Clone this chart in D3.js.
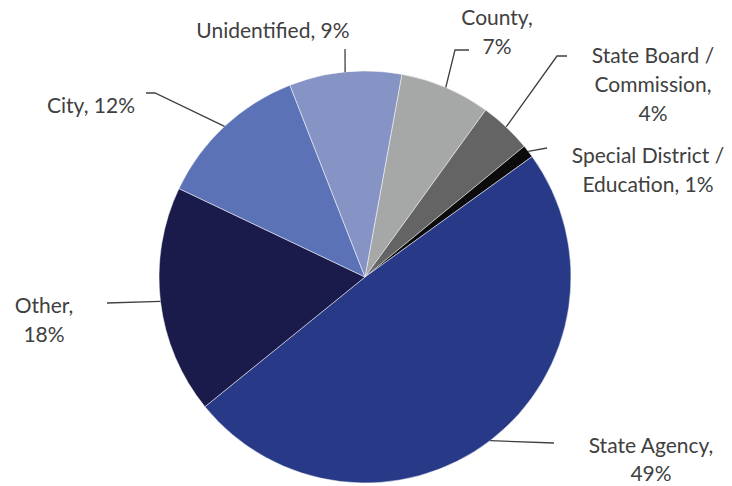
<!DOCTYPE html>
<html>
<head>
<meta charset="utf-8">
<script src="https://cdn.jsdelivr.net/npm/d3@7"></script>
<style>
  body { margin: 0; background: #fff; }
  svg { display: block; }
</style>
</head>
<body>
<div id="vis"></div>
<script>
// slice order, clockwise, starting just right of 12 o'clock
const categories = ["County", "State Board / Commission", "Special District / Education",
                    "State Agency", "Other", "City", "Unidentified"];
const shares = [7.1, 4.1, 1.0, 49.1, 17.9, 12.0, 8.8];
const labelLines = [
  ["County,", "7%"],
  ["State Board /", "Commission,", "4%"],
  ["Special District /", "Education, 1%"],
  ["State Agency,", "49%"],
  ["Other,", "18%"],
  ["City, 12%"],
  ["Unidentified, 9%"]
];
const colors = ["#a6a8a8", "#646464", "#0b0b0b", "#283a87", "#1a1b4b", "#5b72b7", "#8593c5"];

// label layout: text anchor (center x, first baseline y) and leader-line bends
const labelLayout = [
  {x: 497, y: 25, bends: [[455, 50], [469, 50]]},
  {x: 653, y: 63, bends: [[557, 56], [567, 56]]},
  {x: 648, y: 163, bends: [[547, 148]]},
  {x: 651, y: 453, bends: [[554, 443]]},
  {x: 44, y: 313, bends: [[107, 303]]},
  {x: 91, y: 113, bends: [[155, 93], [146, 93]]},
  {x: 273, y: 38, bends: [[345, 49]]}
];

const width = 732, height = 486;
const cx = 365, cy = 277, radius = 206;
const startDeg = 10.3;
const lineStep = 29;

const svg = d3.select("#vis").append("svg")
  .attr("width", width)
  .attr("height", height);

const data = categories.map((c, i) => ({name: c, value: shares[i], i: i}));

const pie = d3.pie()
  .sort(null)
  .value(d => d.value)
  .startAngle(startDeg * Math.PI / 180)
  .endAngle(startDeg * Math.PI / 180 + 2 * Math.PI);

const arc = d3.arc().innerRadius(0).outerRadius(radius);

const g = svg.append("g")
  .attr("transform", `translate(${cx},${cy})`);

const arcs = pie(data);

g.selectAll("path.slice")
  .data(arcs)
  .join("path")
  .attr("class", "slice")
  .attr("d", arc)
  .attr("fill", d => colors[d.data.i])
  .attr("stroke", "#ffffff")
  .attr("stroke-width", 0.5);

// leader lines start on the rim at the middle of each slice
const line = d3.line();
svg.selectAll("path.leader")
  .data(arcs)
  .join("path")
  .attr("class", "leader")
  .attr("d", d => {
    const mid = (d.startAngle + d.endAngle) / 2;
    const p0 = [cx + radius * Math.sin(mid), cy - radius * Math.cos(mid)];
    return line([p0].concat(labelLayout[d.data.i].bends));
  })
  .attr("fill", "none")
  .attr("stroke", "#404040")
  .attr("stroke-width", 1.3);

const labels = svg.selectAll("text.lbl")
  .data(data)
  .join("text")
  .attr("class", "lbl")
  .attr("text-anchor", "middle")
  .attr("font-family", "Lato, 'Open Sans', sans-serif")
  .attr("font-size", 21)
  .attr("fill", "#404040");

labels.selectAll("tspan")
  .data(d => labelLines[d.i].map((t, k) => ({t, k, i: d.i})))
  .join("tspan")
  .attr("x", d => labelLayout[d.i].x)
  .attr("y", d => labelLayout[d.i].y + d.k * (d.i === 3 ? 28 : lineStep))
  .text(d => d.t);
</script>
</body>
</html>
